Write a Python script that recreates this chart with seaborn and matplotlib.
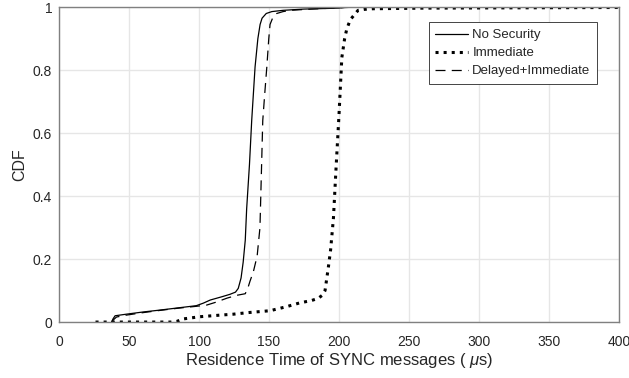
# CDF of residence time of SYNC messages
import numpy as np
import pandas as pd
import matplotlib
matplotlib.use('Agg')
import matplotlib.pyplot as plt
import seaborn as sns

# data
no_sec_x = [37.5, 38.5, 40, 48, 60, 72, 85, 98, 103, 108, 116, 122, 126, 128, 130, 131.5,
            133, 134, 136, 137.6, 140, 142, 143.6, 145, 148, 152, 160, 175, 200, 205]
no_sec_y = [0, 0.01, 0.02, 0.025, 0.032, 0.038, 0.045, 0.052, 0.06, 0.07, 0.08, 0.088,
            0.095, 0.107, 0.14, 0.19, 0.26, 0.36, 0.5, 0.64, 0.81, 0.9, 0.945, 0.965,
            0.98, 0.986, 0.99, 0.994, 0.997, 1.0]

delayed_x = [37.5, 39, 41, 48, 60, 72, 85, 98, 105.5, 112, 120, 127, 133, 135, 136.4,
             138.8, 141.5, 143.5, 145.5, 147, 148.4, 149.8, 150.7, 152.5, 155.5, 160,
             165, 180, 210]
delayed_y = [0, 0.008, 0.016, 0.022, 0.03, 0.037, 0.044, 0.05, 0.054, 0.063, 0.076,
             0.085, 0.09, 0.11, 0.13, 0.16, 0.21, 0.3, 0.64, 0.73, 0.81, 0.9, 0.945,
             0.965, 0.98, 0.986, 0.99, 0.994, 1.0]

immediate_x = [26, 40, 60, 80, 84, 88.8, 100.7, 115, 124.5, 135, 150.7, 162.6, 172, 180,
               185, 188, 190, 192.4, 194, 196, 198, 200, 202, 204, 205.5, 208, 213.6,
               218, 224, 260, 400]
immediate_y = [0, 0, 0, 0, 0.002, 0.01, 0.017, 0.022, 0.025, 0.03, 0.036, 0.049, 0.061,
               0.068, 0.075, 0.085, 0.10, 0.175, 0.23, 0.33, 0.5, 0.66, 0.84, 0.9, 0.93,
               0.96, 0.99, 0.993, 0.995, 0.997, 0.999]

x_ticks = [0, 50, 100, 150, 200, 250, 300, 350, 400]
y_ticks = [0, 0.2, 0.4, 0.6, 0.8, 1]
y_tick_labels = ['0', '0.2', '0.4', '0.6', '0.8', '1']

sns.set_style('whitegrid')
plt.rcParams['font.family'] = ['Liberation Sans', 'DejaVu Sans']
plt.rcParams['mathtext.fontset'] = 'custom'
plt.rcParams['mathtext.it'] = 'Liberation Sans:italic'
plt.rcParams['mathtext.rm'] = 'Liberation Sans'

fig = plt.figure(figsize=(6.29, 3.78), dpi=100)
ax = fig.add_axes([0.094, 0.148, 0.890, 0.833])

sns.lineplot(x=no_sec_x, y=no_sec_y, ax=ax, sort=False, color='black', lw=0.9,
             label='No Security')
sns.lineplot(x=immediate_x, y=immediate_y, ax=ax, sort=False, color='black', lw=2.2,
             linestyle=':', label='Immediate')
sns.lineplot(x=delayed_x, y=delayed_y, ax=ax, sort=False, color='black', lw=0.9,
             linestyle=(0, (8, 5)), label='Delayed+Immediate')

ax.set_xlim(0, 400)
ax.set_ylim(0, 1)
ax.set_xticks(x_ticks)
ax.set_yticks(y_ticks)
ax.set_yticklabels(y_tick_labels)
ax.grid(True, color='#e6e6e6', lw=1)

for s in ax.spines.values():
    s.set_color('#808080')
    s.set_linewidth(1.0)
ax.tick_params(direction='in', length=4, width=1, color='#808080',
               labelsize=10, labelcolor='#262626')
ax.tick_params(axis='x', pad=9)
ax.tick_params(axis='y', pad=5)

ax.set_xlabel(r'Residence Time of SYNC messages ( $\mu$s)', fontsize=12,
              color='#262626', labelpad=2)
ax.set_ylabel('CDF', fontsize=11.5, color='#262626')

leg = ax.legend(loc='upper right', bbox_to_anchor=(0.961, 0.952), fontsize=9.5,
                frameon=True, fancybox=False, handlelength=2.5, handletextpad=0.3,
                labelspacing=0.45, borderpad=0.5, borderaxespad=0)
leg.get_frame().set_edgecolor('#262626')
leg.get_frame().set_linewidth(0.6)
leg.get_frame().set_alpha(1)

fig.savefig('out.png', dpi=100)
